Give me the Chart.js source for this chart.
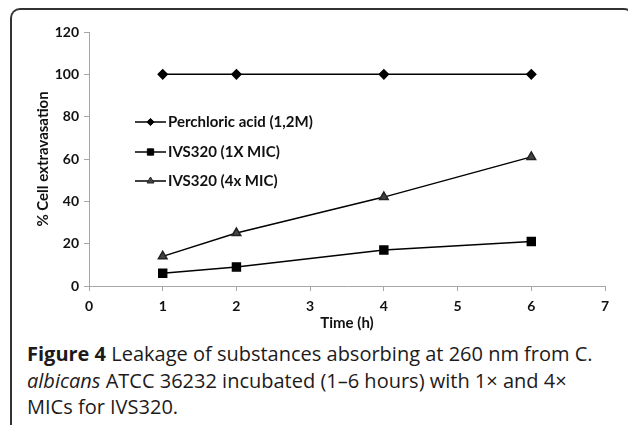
<!DOCTYPE html>
<html>
<head>
<meta charset="utf-8">
<script src="https://cdn.jsdelivr.net/npm/chart.js@4.4.1/dist/chart.umd.min.js"></script>
<style>
  html, body { margin: 0; padding: 0; background: #fff; }
  body { width: 628px; height: 425px; position: relative; overflow: hidden; }
  .frame {
    position: absolute; left: 10px; top: 8px; width: 620px; height: 440px;
    border-top: 2px solid #333; border-left: 2px solid #333; border-right: 2px solid #333;
    border-top-left-radius: 10px; border-top-right-radius: 10px;
  }
  #wrap { position: absolute; left: 0; top: 0; width: 628px; height: 336px; }
  .caption {
    position: absolute; left: 27px; top: 341px;
    font-family: "Open Sans", sans-serif; font-size: 20px; line-height: 26.5px;
    color: #1d1a1b; white-space: nowrap;
  }
  .caption b { font-weight: 700; }
</style>
</head>
<body>
<div class="frame"></div>
<div id="wrap"><canvas id="grafico"></canvas></div>
<div class="caption"><b>Figure 4</b> Leakage of substances absorbing at 260 nm from C.<br><i>albicans</i> ATCC 36232 incubated (1–6 hours) with 1× and 4×<br>MICs for IVS320.</div>
<script>
// dados
const horas = [1, 2, 4, 6];
const perclorico = [100, 100, 100, 100];
const ivs1x = [6, 9, 17, 21];
const ivs4x = [14, 25, 42, 61];
const nomes = ['Perchloric acid (1,2M)', 'IVS320 (1X MIC)', 'IVS320 (4x MIC)'];

const fonteTicks = { family: 'Lato', size: 14, weight: 'bold' };
const fonteTitulo = { family: 'Lato', size: 15, weight: 'bold' };

function pontos(valores) {
  return horas.map((h, i) => ({ x: h, y: valores[i] }));
}

// legenda desenhada dentro da área do gráfico
const legendaInterna = {
  id: 'legendaInterna',
  afterDraw(chart) {
    const ctx = chart.ctx;
    const linhas = [122, 152, 181];
    ctx.save();
    chart.data.datasets.forEach((ds, i) => {
      const y = linhas[i];
      ctx.strokeStyle = '#000';
      ctx.lineWidth = 1.5;
      ctx.beginPath();
      ctx.moveTo(135, y);
      ctx.lineTo(166, y);
      ctx.stroke();
      ctx.fillStyle = ds.pointBackgroundColor;
      ctx.strokeStyle = ds.pointBorderColor;
      ctx.lineWidth = 1;
      Chart.helpers.drawPoint(ctx, { pointStyle: ds.pointStyle, radius: ds.pointRadius * 0.8, borderWidth: 1 }, 150.5, y);
      ctx.fillStyle = '#111';
      ctx.font = 'bold 15px Lato';
      ctx.textBaseline = 'middle';
      ctx.fillText(ds.label, 168, y);
    });
    ctx.restore();
  }
};

const ctx = document.getElementById('grafico').getContext('2d');
new Chart(ctx, {
  type: 'line',
  data: {
    datasets: [{
      label: nomes[0],
      data: pontos(perclorico),
      borderColor: '#000',
      borderWidth: 1.5,
      pointStyle: 'rectRot',
      pointRadius: 4.5,
      pointBackgroundColor: '#000',
      pointBorderColor: '#000'
    }, {
      label: nomes[1],
      data: pontos(ivs1x),
      borderColor: '#000',
      borderWidth: 1.5,
      pointStyle: 'rect',
      pointRadius: 5.6,
      pointBackgroundColor: '#000',
      pointBorderColor: '#000'
    }, {
      label: nomes[2],
      data: pontos(ivs4x),
      borderColor: '#000',
      borderWidth: 1.5,
      pointStyle: 'triangle',
      pointRadius: 5,
      pointBackgroundColor: '#444',
      pointBorderColor: '#222'
    }]
  },
  options: {
    responsive: true,
    maintainAspectRatio: false,
    animation: false,
    layout: { padding: { left: 30, top: 32, right: 23, bottom: 0 } },
    plugins: { legend: { display: false }, tooltip: { enabled: false } },
    scales: {
      x: {
        type: 'linear',
        min: 0,
        max: 7,
        ticks: { stepSize: 1, color: '#111', font: fonteTicks, padding: 7 },
        grid: { drawOnChartArea: false, tickLength: 5, color: '#a6a6a6' },
        border: { color: '#a6a6a6', width: 1 },
        title: { display: true, text: 'Time (h)', color: '#111', font: fonteTitulo },
        afterFit: (scale) => { scale.height = 50; }
      },
      y: {
        min: 0,
        max: 120,
        ticks: { stepSize: 20, color: '#111', font: fonteTicks, padding: 5 },
        grid: { drawOnChartArea: false, tickLength: 5, color: '#a6a6a6' },
        border: { color: '#a6a6a6', width: 1 },
        title: { display: true, text: '% Cell extravasation', color: '#111', font: fonteTitulo },
        afterFit: (scale) => { scale.width = 59; }
      }
    }
  },
  plugins: [legendaInterna]
});
</script>
</body>
</html>
